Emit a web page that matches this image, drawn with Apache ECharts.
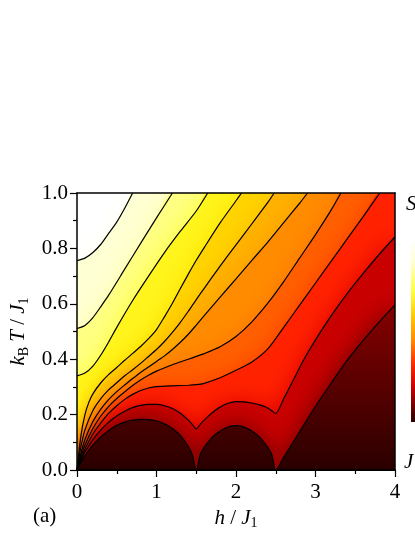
<!DOCTYPE html>
<html>
<head>
<meta charset="utf-8">
<script src="https://cdn.jsdelivr.net/npm/echarts@6/dist/echarts.min.js"></script>
<style>html,body{margin:0;padding:0;background:#fff;}#c{width:415px;height:537px;}</style>
</head>
<body>
<div id="c"></div>
<script>
// Isentropes (h/J1, kBT/J1), ordered from highest entropy to lowest
const isoL1 = [[0,0.756],[0.1,0.765],[0.2,0.785],[0.3,0.815],[0.4,0.855],[0.5,0.895],[0.6,0.945],[0.7,1.0]];
const isoL2 = [[0,0.511],[0.1,0.522],[0.2,0.55],[0.3,0.59],[0.4,0.632],[0.6,0.725],[0.8,0.818],[1.0,0.91],[1.2,1.0]];
const isoL3 = [[0,0.34],[0.1,0.35],[0.2,0.375],[0.3,0.415],[0.4,0.463],[0.5,0.515],[0.7,0.612],[0.9,0.7],[1.1,0.785],[1.3,0.862],[1.5,0.935],[1.644,1.0]];
const isoL4 = [[0,0],[0.05,0.125],[0.1,0.2],[0.15,0.245],[0.2,0.275],[0.3,0.315],[0.4,0.345],[0.5,0.37],[0.6,0.396],[0.7,0.421],[0.8,0.446],[0.9,0.474],[1.0,0.507],[1.1,0.553],[1.2,0.602],[1.3,0.655],[1.4,0.707],[1.5,0.757],[1.6,0.803],[1.8,0.892],[2.0,0.972],[2.07,1.0]];
const isoL5 = [[0,0],[0.05,0.085],[0.1,0.145],[0.2,0.215],[0.3,0.258],[0.4,0.29],[0.5,0.315],[0.6,0.34],[0.7,0.362],[0.8,0.385],[0.9,0.41],[1.0,0.435],[1.1,0.464],[1.2,0.497],[1.3,0.533],[1.4,0.573],[1.5,0.615],[1.6,0.656],[1.8,0.736],[2.0,0.813],[2.2,0.889],[2.4,0.966],[2.48,1.0]];
const isoL6 = [[0,0],[0.05,0.06],[0.1,0.11],[0.2,0.175],[0.3,0.22],[0.4,0.255],[0.5,0.283],[0.6,0.307],[0.7,0.33],[0.8,0.352],[0.9,0.372],[1.0,0.392],[1.1,0.412],[1.2,0.435],[1.3,0.461],[1.4,0.49],[1.5,0.523],[1.6,0.557],[1.8,0.624],[2.0,0.69],[2.2,0.757],[2.4,0.823],[2.6,0.893],[2.8,0.963],[2.9,1.0]];
const isoL7 = [[0,0],[0.05,0.05],[0.1,0.09],[0.2,0.15],[0.3,0.195],[0.4,0.23],[0.5,0.258],[0.6,0.282],[0.7,0.305],[0.8,0.325],[0.9,0.342],[1.0,0.357],[1.2,0.38],[1.4,0.4],[1.5,0.41],[1.6,0.42],[1.8,0.445],[2.0,0.482],[2.2,0.535],[2.4,0.602],[2.6,0.68],[2.8,0.765],[3.0,0.85],[3.2,0.94],[3.32,1.0]];
const isoL8 = [[0,0],[0.05,0.04],[0.1,0.075],[0.2,0.13],[0.3,0.17],[0.4,0.205],[0.5,0.232],[0.6,0.255],[0.7,0.273],[0.8,0.287],[0.9,0.296],[1.0,0.301],[1.2,0.304],[1.4,0.306],[1.5,0.308],[1.6,0.313],[1.8,0.333],[2.0,0.36],[2.2,0.39],[2.4,0.437],[2.6,0.515],[2.8,0.595],[3.0,0.675],[3.2,0.755],[3.4,0.835],[3.6,0.915],[3.81,1.0]];
const isoL9 = [[0,0],[0.05,0.035],[0.1,0.065],[0.2,0.11],[0.3,0.145],[0.4,0.173],[0.5,0.195],[0.6,0.212],[0.7,0.225],[0.8,0.233],[0.9,0.237],[1.0,0.237],[1.1,0.232],[1.2,0.222],[1.3,0.205],[1.4,0.18],[1.45,0.165],[1.5,0.148],[1.55,0.165],[1.6,0.18],[1.7,0.207],[1.8,0.227],[1.9,0.241],[2.0,0.247],[2.1,0.246],[2.2,0.242],[2.3,0.235],[2.4,0.224],[2.45,0.214],[2.5,0.204],[2.6,0.258],[2.7,0.313],[2.85,0.397],[3.0,0.47],[3.2,0.558],[3.4,0.638],[3.6,0.71],[3.8,0.778],[4.0,0.842]];
const isoL10 = [[0,0],[0.05,0.028],[0.1,0.052],[0.2,0.09],[0.3,0.12],[0.4,0.143],[0.5,0.161],[0.6,0.173],[0.7,0.18],[0.8,0.183],[0.9,0.182],[1.0,0.177],[1.1,0.167],[1.2,0.15],[1.3,0.125],[1.4,0.085],[1.45,0.055],[1.5,0],[1.55,0.055],[1.6,0.082],[1.7,0.118],[1.8,0.141],[1.9,0.155],[2.0,0.16],[2.1,0.155],[2.2,0.141],[2.3,0.118],[2.4,0.082],[2.45,0.055],[2.5,0],[2.6,0.046],[2.8,0.138],[3.0,0.23],[3.2,0.315],[3.4,0.397],[3.6,0.468],[3.8,0.534],[4.0,0.596]];

const isentropes = [isoL1, isoL2, isoL3, isoL4, isoL5, isoL6, isoL7, isoL8, isoL9, isoL10];
const xTicks = [0, 1, 2, 3, 4];
const yTicks = [0.0, 0.2, 0.4, 0.6, 0.8, 1.0];

// styles: fill of the band lying below each isentrope, and the blur colour at its edge
const bandColors = ['#ffffd4','#ffff84','#fff41c','#ffd400','#ffb200','#ff8c00','#ff6000','#ff2200','#c80000',
  new echarts.graphic.LinearGradient(0, 0, 0, 1, [
    { offset: 0, color: '#860000' }, { offset: 0.45, color: '#5c0000' },
    { offset: 0.7, color: '#460000' }, { offset: 1, color: '#2a0000' } ])];
const edgeColors = ['#fffff0','#ffffa8','#ffff38','#ffe000','#ffbe00','#ff9a00','#ff7400','#ff3c00','#dd0000','#6a0000'];

const X_MIN = xTicks[0], X_MAX = xTicks[xTicks.length-1];
const Y_MIN = yTicks[0], Y_MAX = yTicks[yTicks.length-1];

const serif = 'Liberation Serif';
const series = [];
isentropes.forEach((pts, i) => {
  const area = pts.slice();
  const last = area[area.length-1];
  if (last[1] >= Y_MAX && last[0] < X_MAX) area.push([X_MAX, Y_MAX]);
  series.push({
    type: 'line', data: area, symbol: 'none', smooth: 0.25, z: 1, clip: true,
    lineStyle: { width: 0, opacity: 0 },
    areaStyle: { color: bandColors[i], opacity: 1, origin: 'start',
                 shadowBlur: 22, shadowColor: edgeColors[i] },
    silent: true
  });
});
isentropes.forEach((pts) => {
  series.push({
    type: 'line', data: pts, symbol: 'none', smooth: 0.25, z: 3, clip: true,
    lineStyle: { width: 1.2, color: '#000' }, silent: true
  });
});

const chart = echarts.init(document.getElementById('c'), null, { renderer: 'canvas' });
const axisFont = { fontFamily: serif, fontSize: 21, color: '#000' };
const rich = {
  i: { fontFamily: serif, fontStyle: 'italic', fontSize: 21, lineHeight: 24 },
  n: { fontFamily: serif, fontSize: 21, lineHeight: 24 },
  s: { fontFamily: serif, fontSize: 14, lineHeight: 14, verticalAlign: 'bottom' }
};
const option = {
  animation: false,
  backgroundColor: '#fff',
  grid: { left: 77, top: 193, width: 318, height: 277 },
  xAxis: [{
    type: 'value', min: X_MIN, max: X_MAX, interval: 1, position: 'bottom', z: 5,
    axisLine: { show: true, onZero: false, lineStyle: { color: '#000', width: 2 } },
    axisTick: { show: true, length: 7, lineStyle: { color: '#000', width: 1.2 } },
    minorTick: { show: true, splitNumber: 2, length: 4, lineStyle: { color: '#000', width: 1.2 } },
    axisLabel: Object.assign({ margin: 12 }, axisFont),
    splitLine: { show: false },
    name: '{i|h}{n| / }{i|J}{s|1}', nameLocation: 'middle', nameGap: 36,
    nameTextStyle: { rich: rich }
  }, {
    type: 'value', min: X_MIN, max: X_MAX, position: 'top', z: 5,
    axisLine: { show: true, onZero: false, lineStyle: { color: '#000', width: 1.5 } },
    axisTick: { show: false }, axisLabel: { show: false }, splitLine: { show: false }
  }],
  yAxis: [{
    type: 'value', min: Y_MIN, max: Y_MAX, interval: 0.2, position: 'left', z: 5,
    axisLine: { show: true, onZero: false, lineStyle: { color: '#000', width: 1.5 } },
    axisTick: { show: true, length: 7, lineStyle: { color: '#000', width: 1.2 } },
    minorTick: { show: true, splitNumber: 2, length: 4, lineStyle: { color: '#000', width: 1.2 } },
    axisLabel: Object.assign({ margin: 9, formatter: v => v.toFixed(1) }, axisFont),
    splitLine: { show: false },
    name: '{i|k}{s|B}{n| }{i|T}{n| / }{i|J}{s|1}', nameLocation: 'middle', nameGap: 40,
    nameTextStyle: { rich: rich }
  }, {
    type: 'value', min: Y_MIN, max: Y_MAX, position: 'right', z: 5,
    axisLine: { show: true, onZero: false, lineStyle: { color: '#000', width: 1.5 } },
    axisTick: { show: false }, axisLabel: { show: false }, splitLine: { show: false }
  }],
  series: series,
  graphic: [
    { type: 'rect', left: 411, top: 240, shape: { width: 12, height: 182 }, z: 10,
      style: { fill: new echarts.graphic.LinearGradient(0, 0, 0, 1, [
        { offset: 0, color: '#ffffff' }, { offset: 0.12, color: '#ffffd0' },
        { offset: 0.28, color: '#ffff40' }, { offset: 0.42, color: '#ffc800' },
        { offset: 0.55, color: '#ff8c00' }, { offset: 0.68, color: '#ff2a00' },
        { offset: 0.8, color: '#d00000' }, { offset: 0.9, color: '#7a0000' },
        { offset: 1, color: '#2a0000' } ]) } },
    { type: 'text', left: 406, top: 194, z: 10,
      style: { text: 'S', fontFamily: serif, fontStyle: 'italic', fontSize: 21, fill: '#000' } },
    { type: 'text', left: 404, top: 452, z: 10,
      style: { text: 'J', fontFamily: serif, fontStyle: 'italic', fontSize: 21, fill: '#000' } },
    { type: 'text', left: 33, top: 506, z: 10,
      style: { text: '(a)', fontFamily: serif, fontSize: 21, fill: '#000' } }
  ]
};
chart.setOption(option);
</script>
</body>
</html>
